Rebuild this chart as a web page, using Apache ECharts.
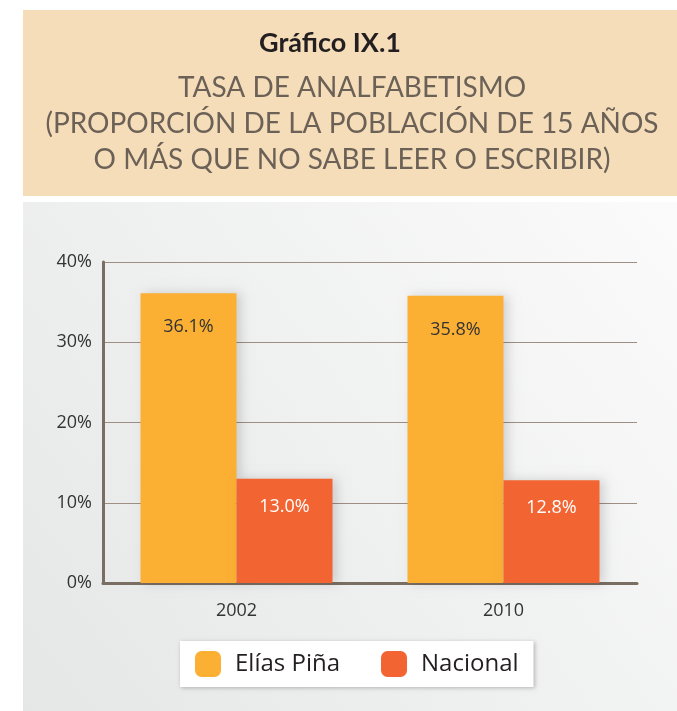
<!DOCTYPE html>
<html>
<head>
<meta charset="utf-8">
<script src="https://cdn.jsdelivr.net/npm/echarts@6/dist/echarts.min.js"></script>
<style>
    html, body {margin: 0; padding: 0; background: #ffffff;}
    #chart {width: 677px; height: 711px;}
</style>
</head>
<body>
<div id="chart"></div>
<script>
// 数据
var years = ['2002', '2010'];
var eliasPina = [36.1, 35.8];
var nacional = [13.0, 12.8];
var yTicks = [0, 10, 20, 30, 40];

var myChart = echarts.init(document.getElementById("chart"));

var fontMain = '"Open Sans", "Noto Sans", sans-serif';
var fontTitle = 'Lato, "Open Sans", sans-serif';

myChart.setOption({
    animation: false,
    color: ['#fbb034', '#f26532'],
    graphic: [
        {   // 标题背景
            type: 'rect', left: 23, top: 10, z: -10,
            shape: {width: 654, height: 186},
            style: {fill: '#f6ddb9'}
        },
        {   // 图表背景
            type: 'rect', left: 23, top: 202, z: -10,
            shape: {width: 654, height: 509},
            style: {
                fill: new echarts.graphic.LinearGradient(1, 0, 0, 1, [
                    {offset: 0, color: '#fbfbfb'},
                    {offset: 1, color: '#e5e6e6'}
                ])
            }
        },
        {
            type: 'text', x: 330, y: 30,
            style: {text: 'Gráfico IX.1', font: 'bold 27px ' + fontTitle, fill: '#231f20', align: 'center'}
        },
        {
            type: 'text', x: 352, y: 70,
            style: {
                text: 'TASA DE ANALFABETISMO\n(PROPORCIÓN DE LA POBLACIÓN DE 15 AÑOS\nO MÁS QUE NO SABE LEER O ESCRIBIR)',
                font: '28px ' + fontTitle, fill: '#6b6157', align: 'center', lineHeight: 36
            }
        }
    ],
    legend: {
        left: 180, top: 641,
        itemWidth: 26, itemHeight: 26, itemGap: 41,
        padding: [10, 15, 10, 15],
        backgroundColor: '#ffffff',
        shadowColor: 'rgba(0,0,0,0.25)', shadowBlur: 4, shadowOffsetX: 1, shadowOffsetY: 1,
        textStyle: {fontFamily: fontMain, fontSize: 24, color: '#231f20', padding: [0, 0, 0, 9]},
        data: ['Elías Piña', 'Nacional']
    },
    grid: {left: 103, right: 40, top: 262, bottom: 128, containLabel: false},
    xAxis: {
        type: 'category',
        data: years,
        axisLine: {lineStyle: {color: '#7a6d63', width: 3}},
        axisTick: {show: false},
        axisLabel: {fontFamily: fontMain, fontSize: 18, color: '#333333', margin: 19}
    },
    yAxis: {
        type: 'value',
        min: yTicks[0], max: yTicks[yTicks.length - 1], interval: 10,
        axisLine: {show: true, lineStyle: {color: '#7a6d63', width: 3}},
        axisTick: {show: false},
        splitLine: {lineStyle: {color: '#9e8e84', width: 1}},
        axisLabel: {
            fontFamily: fontMain, fontSize: 18, color: '#333333', margin: 11,
            formatter: function (val) { return val + '%'; }
        }
    },
    series: [
        {
            name: 'Elías Piña',
            type: 'bar',
            data: eliasPina,
            barWidth: 96,
            barGap: '0%',
            itemStyle: {shadowColor: 'rgba(0,0,0,0.15)', shadowBlur: 10, shadowOffsetX: 4},
            label: {
                show: true, position: 'insideTop', distance: 25,
                fontFamily: fontMain, fontSize: 18, color: '#333333',
                formatter: function (p) { return p.value.toFixed(1) + '%'; }
            }
        },
        {
            name: 'Nacional',
            type: 'bar',
            data: nacional,
            barWidth: 96,
            barGap: '0%',
            itemStyle: {shadowColor: 'rgba(0,0,0,0.15)', shadowBlur: 10, shadowOffsetX: 4},
            label: {
                show: true, position: 'insideTop', distance: 19,
                fontFamily: fontMain, fontSize: 18, color: '#ffffff',
                formatter: function (p) { return p.value.toFixed(1) + '%'; }
            }
        }
    ]
});
</script>
</body>
</html>
